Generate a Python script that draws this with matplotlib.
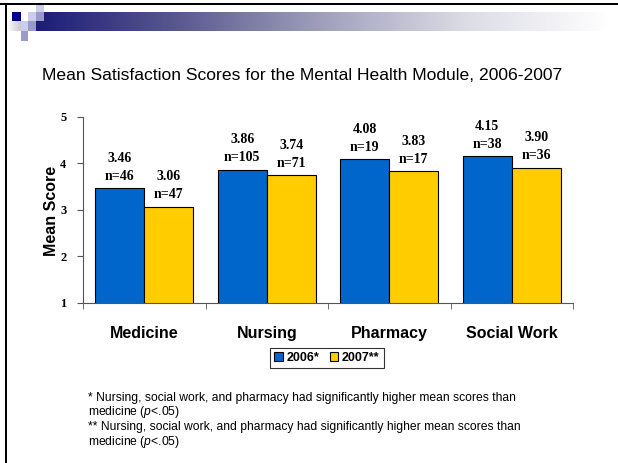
import matplotlib
matplotlib.use("Agg")
import matplotlib.pyplot as plt
import numpy as np
from matplotlib.colors import LinearSegmentedColormap
from matplotlib.patches import Rectangle, Patch

plt.rcParams['font.family'] = ['Liberation Sans', 'DejaVu Sans']
plt.rcParams['mathtext.fontset'] = 'custom'
plt.rcParams['mathtext.it'] = 'Liberation Sans:italic'
plt.rcParams['mathtext.rm'] = 'Liberation Sans'

# --- data ---
categories = ["Medicine", "Nursing", "Pharmacy", "Social Work"]
scores_2006 = [3.46, 3.86, 4.08, 4.15]
scores_2007 = [3.06, 3.74, 3.83, 3.90]
n_2006 = [46, 105, 19, 38]
n_2007 = [47, 71, 17, 36]
series_labels = ["2006*", "2007**"]
title = "Mean Satisfaction Scores for the Mental Health Module, 2006-2007"
footnotes = [
    "* Nursing, social work, and pharmacy had significantly higher mean scores than",
    r"medicine ($\mathit{p}$<.05)",
    "** Nursing, social work, and pharmacy had significantly higher mean scores than",
    r"medicine ($\mathit{p}$<.05)",
]

BLUE = "#0066CC"
YELLOW = "#FFCC00"
W, H = 618, 463

fig = plt.figure(figsize=(W / 100, H / 100), dpi=100)
fig.patch.set_facecolor("white")

# slide decoration layer in pixel coordinates
deco = fig.add_axes([0, 0, 1, 1], zorder=0)
deco.set_xlim(0, W)
deco.set_ylim(H, 0)
deco.axis("off")

grad = LinearSegmentedColormap.from_list(
    "hdr", ["#1c1c78", "#5a5a90", "#a0a0bc", "#dcdce6", "#ffffff"])
deco.imshow(np.linspace(0, 1, 256)[None, :], cmap=grad, aspect="auto",
            extent=(36, 610, 30.7, 12), zorder=1, interpolation="bilinear")
side = LinearSegmentedColormap.from_list("side", ["#ffffff", "#c8c8d0"])
deco.imshow(np.linspace(0, 1, 64)[None, :], cmap=side, aspect="auto",
            extent=(7, 20.7, 30.7, 20.7), zorder=1, interpolation="bilinear")
squares = [
    (12, 12, 8.7, 8.7, "#000080"),
    (28.3, 12, 7.7, 8.7, "#ccccec"),
    (36, 4.5, 8, 7.5, "#ccccec"),
    (36, 12, 8, 8.7, "#9999cc"),
    (20.7, 20.7, 7.6, 10, "#ccccec"),
    (28.3, 20.7, 7.7, 10, "#9999cc"),
    (20.7, 30.7, 7.6, 10, "#9999cc"),
]
for x, y, w, h, c in squares:
    deco.add_patch(Rectangle((x, y), w, h, facecolor=c, edgecolor="none", zorder=2))
# slide frame: top and left edges
deco.add_patch(Rectangle((0, 3), W, 2.2, facecolor="black", edgecolor="none", zorder=3))
deco.add_patch(Rectangle((5, 3), 2.2, H, facecolor="black", edgecolor="none", zorder=3))

fig.text(42 / W, 1 - 75 / H, title, fontsize=12.6, ha="left", va="center")

# --- bar chart ---
ax = fig.add_axes([83 / W, (H - 302.7) / H, 490 / W, 186 / H], zorder=2)
ax.patch.set_alpha(0)
x = np.arange(len(categories))
bw = 0.4
b1 = ax.bar(x - bw / 2, scores_2006, bw, color=BLUE, edgecolor="black", linewidth=0.8)
b2 = ax.bar(x + bw / 2, scores_2007, bw, color=YELLOW, edgecolor="black", linewidth=0.8)

ax.set_xlim(-0.5, len(categories) - 0.5)
ax.set_ylim(1, 5)
ax.set_yticks([1, 2, 3, 4, 5])
for s in ["top", "right"]:
    ax.spines[s].set_visible(False)
for s in ["left", "bottom"]:
    ax.spines[s].set_color("#555555")
    ax.spines[s].set_linewidth(0.8)

ax.set_xticks(x)
ax.set_xticklabels(categories, fontsize=11.5, fontweight="bold")
ax.tick_params(axis="x", length=0, pad=17)
ax.set_xticks(np.arange(-0.5, len(categories)), minor=True)
ax.tick_params(axis="x", which="minor", length=4, color="#555555", direction="out")
ax.tick_params(axis="y", length=4, color="#555555", pad=8)
for lbl in ax.get_yticklabels():
    lbl.set_fontfamily("Liberation Serif")
    lbl.set_fontweight("bold")
    lbl.set_fontsize(9)

for bars, vals, ns in [(b1, scores_2006, n_2006), (b2, scores_2007, n_2007)]:
    for rect, v, n in zip(bars, vals, ns):
        cx = rect.get_x() + rect.get_width() / 2
        ax.annotate(f"{v:.2f}", (cx, v), xytext=(0, 30), textcoords="offset pixels",
                    ha="center", va="center", fontsize=10, fontweight="bold",
                    family="Liberation Serif")
        ax.annotate(f"n={n}", (cx, v), xytext=(0, 12), textcoords="offset pixels",
                    ha="center", va="center", fontsize=10, fontweight="bold",
                    family="Liberation Serif")

fig.text(51.5 / W, 1 - 211 / H, "Mean Score", rotation=90, fontsize=11.5,
         fontweight="bold", ha="center", va="center")

handles = [Patch(facecolor=BLUE, edgecolor="black", linewidth=0.8),
           Patch(facecolor=YELLOW, edgecolor="black", linewidth=0.8)]
leg = fig.legend(handles, series_labels, loc="center", ncol=2,
                 bbox_to_anchor=(327 / W, 1 - 358 / H), frameon=True, fancybox=False,
                 edgecolor="black", handlelength=0.7, handleheight=0.7,
                 handletextpad=0.3, columnspacing=0.8, borderpad=0.35,
                 prop={"size": 9, "weight": "bold"})
leg.get_frame().set_linewidth(0.8)

for i, line in enumerate(footnotes):
    fig.text(88 / W, 1 - (398 + i * 14.5) / H, line, fontsize=8.7,
             ha="left", va="center")

fig.savefig("out.png", dpi=100)
